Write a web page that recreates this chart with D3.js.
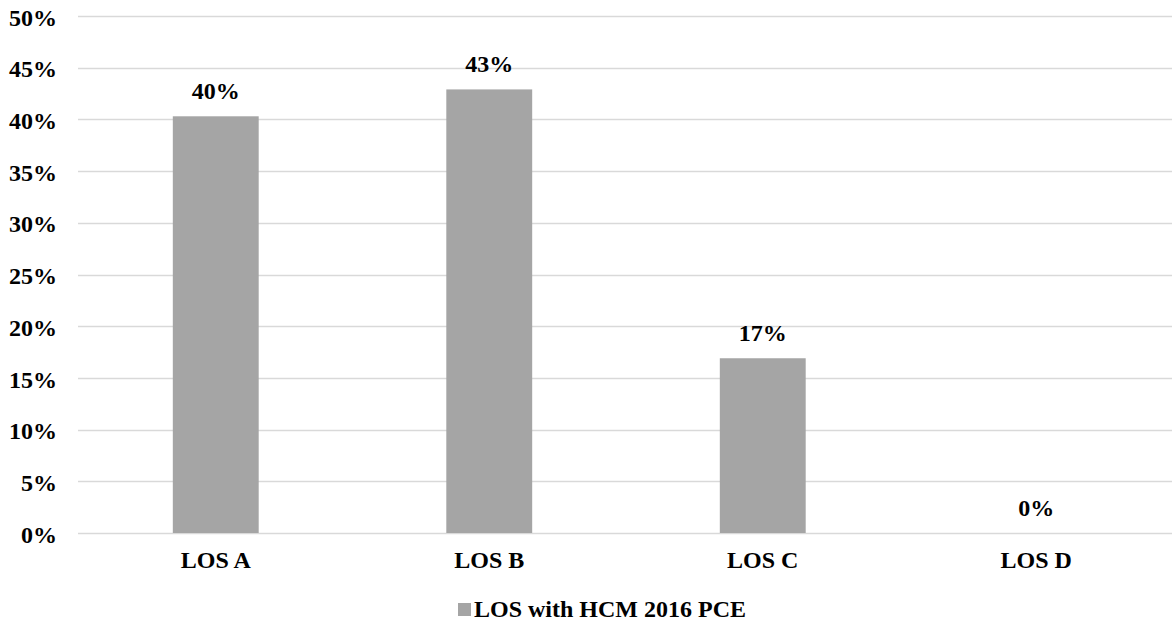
<!DOCTYPE html>
<html>
<head>
<meta charset="utf-8">
<script src="https://cdn.jsdelivr.net/npm/d3@7"></script>
<style>
  html, body { margin: 0; padding: 0; background: #fff; }
  svg { display: block; }
  text { font-family: "Liberation Serif", "Times New Roman", serif; font-weight: bold; fill: #000; }
</style>
</head>
<body>
<svg id="chart" width="1172" height="624"></svg>
<script>
// LOS distribution (share of cases)
const categories = ["LOS A", "LOS B", "LOS C", "LOS D"];
const values = [0.403, 0.429, 0.169, 0];
const yTicks = [0, 0.05, 0.10, 0.15, 0.20, 0.25, 0.30, 0.35, 0.40, 0.45, 0.50];
const seriesName = "LOS with HCM 2016 PCE";

(function draw() {
  const svg = d3.select("#chart");
  const W = 1172;
  const plotLeft = 79, plotRight = 1173, plotTop = 16, plotBottom = 533;
  const barColor = "#a5a5a5";
  const serif = "'Liberation Serif', 'Times New Roman', serif";
  const fs = 24;

  const x = d3.scaleBand().domain(categories).range([plotLeft, plotRight])
    .paddingInner(0.686).paddingOuter(0.343);
  const y = d3.scaleLinear().domain([0, 0.5]).range([plotBottom, plotTop]);
  const pct = d3.format(".0%");

  // horizontal gridlines
  svg.append("g").selectAll("line").data(yTicks).join("line")
    .attr("x1", 78).attr("x2", W)
    .attr("y1", d => Math.round(y(d)) + 0.5).attr("y2", d => Math.round(y(d)) + 0.5)
    .attr("stroke", "#d9d9d9").attr("stroke-width", 1.5);

  // y axis labels
  const yAxis = d3.axisLeft(y).tickValues(yTicks).tickFormat(pct).tickSize(0).tickPadding(0);
  const yg = svg.append("g").attr("transform", "translate(57,0)").call(yAxis);
  yg.select(".domain").remove();
  yg.selectAll("text").attr("font-size", fs).attr("dy", "0.38em").attr("fill", "#000")
    .style("font-family", serif).style("font-weight", "bold");

  // bars
  svg.append("g").selectAll("rect").data(categories).join("rect")
    .attr("x", d => x(d))
    .attr("y", (d, i) => y(values[i]))
    .attr("width", x.bandwidth())
    .attr("height", (d, i) => y(0) - y(values[i]))
    .attr("fill", barColor);

  // value labels
  svg.append("g").selectAll("text").data(categories).join("text")
    .attr("x", d => x(d) + x.bandwidth() / 2)
    .attr("y", (d, i) => y(values[i]) - 17)
    .attr("text-anchor", "middle")
    .attr("font-size", fs)
    .text((d, i) => pct(values[i]));

  // x axis labels
  const xAxis = d3.axisBottom(x).tickSize(0).tickPadding(0);
  const xg = svg.append("g").attr("transform", "translate(0,551)").call(xAxis);
  xg.select(".domain").remove();
  xg.selectAll("text").attr("font-size", fs).attr("dy", "0.71em").attr("fill", "#000")
    .style("font-family", serif).style("font-weight", "bold");

  // legend
  const legend = svg.append("g").attr("transform", "translate(458,603)");
  legend.append("rect").attr("width", 13).attr("height", 13).attr("fill", barColor);
  legend.append("text").attr("x", 16).attr("y", 14).attr("font-size", fs).text(seriesName);
})();
</script>
</body>
</html>
